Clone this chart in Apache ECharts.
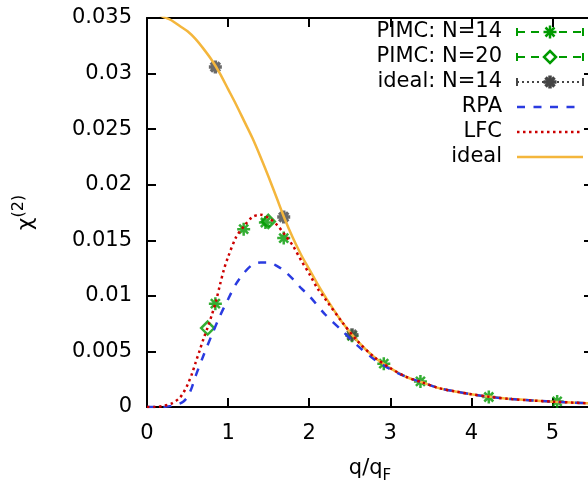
<!DOCTYPE html>
<html><head><meta charset="utf-8">
<script src="https://cdn.jsdelivr.net/npm/echarts@6/dist/echarts.min.js"></script>
<style>html,body{margin:0;padding:0;overflow:hidden;background:#fff;width:588px;height:482px}#c{width:600px;height:482px}</style>
</head><body><div id="c"></div><script>
const FONT = 'DejaVu Sans';
const seriesNames = ['PIMC: N=14', 'PIMC: N=20', 'ideal: N=14', 'RPA', 'LFC', 'ideal'];
const xTicks = [0, 1, 2, 3, 4, 5];
const yTicks = [0, 0.005, 0.01, 0.015, 0.02, 0.025, 0.03, 0.035];

const qIdeal = [0, 0.1, 0.2, 0.3, 0.4, 0.5, 0.6, 0.7, 0.8, 0.9, 1.0, 1.1, 1.2, 1.3, 1.4, 1.5, 1.6, 1.7, 1.8, 1.9, 2.0, 2.1, 2.2, 2.4, 2.6, 2.8, 3.0, 3.2, 3.4, 3.6, 3.8, 4.0, 4.2, 4.5, 5.0, 5.5];
const ideal  = [0.0354, 0.0354, 0.0351, 0.0348, 0.0343, 0.0338, 0.0331, 0.0322, 0.0312, 0.0300, 0.0286, 0.0272, 0.0257, 0.0242, 0.0225, 0.0207, 0.0188, 0.0169, 0.0152, 0.0137, 0.0124, 0.0111, 0.0099, 0.0077, 0.0059, 0.0045, 0.0035, 0.0027, 0.0022, 0.0017, 0.0014, 0.00115, 0.00094, 0.00071, 0.00048, 0.00032];

const qRPA = [0, 0.2, 0.3, 0.4, 0.45, 0.5, 0.55, 0.6, 0.7, 0.8, 0.9, 1.0, 1.1, 1.2, 1.3, 1.4, 1.5, 1.6, 1.7, 1.8, 1.9, 2.0, 2.2, 2.4, 2.6, 2.8, 3.0, 3.2, 3.4, 3.6, 3.8, 4.0, 4.2, 4.5, 5.0, 5.5];
const rpa  = [0, 0, 0.0001, 0.0003, 0.0005, 0.0009, 0.0017, 0.0028, 0.0047, 0.0065, 0.0082, 0.0097, 0.0111, 0.0121, 0.0128, 0.0130, 0.0130, 0.0127, 0.0122, 0.0115, 0.0107, 0.0100, 0.0083, 0.0069, 0.0055, 0.0043, 0.0034, 0.0027, 0.0022, 0.0017, 0.0014, 0.00115, 0.00094, 0.00071, 0.00048, 0.00032];

const qLFC = [0, 0.1, 0.2, 0.3, 0.4, 0.45, 0.5, 0.55, 0.6, 0.65, 0.7, 0.75, 0.8, 0.85, 0.9, 0.95, 1.0, 1.1, 1.2, 1.3, 1.4, 1.5, 1.6, 1.7, 1.8, 1.9, 2.0, 2.1, 2.2, 2.4, 2.6, 2.8, 3.0, 3.2, 3.4, 3.6, 3.8, 4.0, 4.2, 4.5, 5.0, 5.5];
const lfc  = [0, 0, 0.0001, 0.0003, 0.0008, 0.0013, 0.0020, 0.0029, 0.0040, 0.0051, 0.0062, 0.0072, 0.0083, 0.0095, 0.0110, 0.0124, 0.0135, 0.0153, 0.0163, 0.0171, 0.0173, 0.0170, 0.0164, 0.0155, 0.0145, 0.0132, 0.0120, 0.0107, 0.0097, 0.0077, 0.0059, 0.0045, 0.0035, 0.0027, 0.0022, 0.0017, 0.0014, 0.00115, 0.00094, 0.00071, 0.00048, 0.00032];

const qPimc14 = [0.843, 1.192, 1.460, 1.686, 2.528, 2.920, 3.372, 4.215, 5.058];
const pimc14  = [0.0093, 0.0160, 0.0166, 0.0152, 0.0064, 0.0039, 0.0023, 0.0009, 0.0005];
const qPimc20 = [0.748, 1.496];
const pimc20  = [0.0071, 0.0167];
const qIdeal14 = [0.843, 1.686, 2.528];
const ideal14  = [0.0306, 0.0171, 0.0065];

const GREEN = '#009a00', GRAY = '#454545', BLUE = '#2a3be0', RED = '#cc0000', ORANGE = '#f4b63c';
const zip = (a, b) => a.map((v, i) => [v, b[i]]);
const STAR = 'path://M6.5,0L6.5,13M0,6.5L13,6.5M2,2L11,11M2,11L11,2';

// legend drawn with graphic elements
const LX_TEXT = 502, LX0 = 517, LX1 = 583, LXM = 550, LY0 = 32, LDY = 25;
const legendStyles = [
  {color: GREEN, dash: [8, 6], width: 2, bars: true, marker: 'star'},
  {color: GREEN, dash: [8, 6], width: 2, bars: true, marker: 'diamond'},
  {color: GRAY, dash: [2, 3], width: 2, bars: true, marker: 'star'},
  {color: BLUE, dash: [8, 8.5], width: 2.5},
  {color: RED, dash: [2.5, 3.5], width: 2.5},
  {color: ORANGE, dash: null, width: 2.5}
];
const graphics = [];
seriesNames.forEach((name, i) => {
  const y = LY0 + LDY * i;
  const st = legendStyles[i];
  graphics.push({type: 'text', x: LX_TEXT, y: y, style: {text: name, font: '21px ' + FONT, fill: '#000', align: 'right', textAlign: 'right', verticalAlign: 'middle', textVerticalAlign: 'middle'}});
  graphics.push({type: 'line', shape: {x1: LX0, y1: y, x2: LX1, y2: y}, style: {stroke: st.color, lineWidth: st.width, lineDash: st.dash}});
  if (st.bars) {
    graphics.push({type: 'line', shape: {x1: LX0, y1: y - 4, x2: LX0, y2: y + 4}, style: {stroke: st.color, lineWidth: 2}});
    graphics.push({type: 'line', shape: {x1: LX1, y1: y - 4, x2: LX1, y2: y + 4}, style: {stroke: st.color, lineWidth: 2}});
  }
  if (st.marker === 'star') {
    const w = st.color === GRAY ? 3.5 : 2.5;
    [[0, -6.5, 0, 6.5], [-6.5, 0, 6.5, 0], [-4.5, -4.5, 4.5, 4.5], [-4.5, 4.5, 4.5, -4.5]].forEach(s => {
      graphics.push({type: 'line', shape: {x1: LXM + s[0], y1: y + s[1], x2: LXM + s[2], y2: y + s[3]}, style: {stroke: st.color, lineWidth: w}});
    });
  } else if (st.marker === 'diamond') {
    graphics.push({type: 'polygon', shape: {points: [[LXM, y - 6], [LXM + 6, y], [LXM, y + 6], [LXM - 6, y]]}, style: {fill: '#fff', stroke: st.color, lineWidth: 2.5}});
  }
});

const axisCommon = {
  type: 'value',
  axisLine: {show: true, onZero: false, lineStyle: {color: '#000', width: 2}},
  axisTick: {show: true, inside: true, length: 9, lineStyle: {color: '#000', width: 2}},
  splitLine: {show: false}
};

const chart = echarts.init(document.getElementById('c'), null, {renderer: 'canvas'});
chart.setOption({
  animation: false,
  backgroundColor: '#fff',
  textStyle: {fontFamily: FONT},
  grid: {left: 147, top: 18, width: 446, height: 389, containLabel: false, outerBoundsMode: 'none'},
  xAxis: [
    Object.assign({}, axisCommon, {
      position: 'bottom', min: 0, max: 5.5, interval: 1,
      name: '{a|q/q}{b|F}', nameLocation: 'middle', nameGap: 47,
      nameTextStyle: {rich: {a: {fontSize: 21, fontFamily: FONT, color: '#000', lineHeight: 30}, b: {fontSize: 15, fontFamily: FONT, color: '#000', lineHeight: 18, verticalAlign: 'bottom'}}},
      axisLabel: {show: true, margin: 16, fontSize: 21, fontFamily: FONT, color: '#000', showMaxLabel: false,
        formatter: v => (xTicks.indexOf(v) >= 0 ? String(v) : '')}
    }),
    Object.assign({}, axisCommon, {position: 'top', min: 0, max: 5.5, interval: 1, axisLabel: {show: false}})
  ],
  yAxis: [
    Object.assign({}, axisCommon, {
      position: 'left', min: 0, max: 0.035, interval: 0.005,
      name: '{a|χ}{b|(2)}', nameLocation: 'middle', nameGap: 106, nameRotate: 90,
      nameTextStyle: {rich: {a: {fontSize: 22, fontFamily: FONT, color: '#000', lineHeight: 30}, b: {fontSize: 16, fontFamily: FONT, color: '#000', lineHeight: 24, verticalAlign: 'top'}}},
      axisLabel: {show: true, margin: 15, fontSize: 21, fontFamily: FONT, color: '#000',
        formatter: v => { const t = yTicks.find(t => Math.abs(t - v) < 1e-9); return t === undefined ? '' : String(t); }}
    }),
    Object.assign({}, axisCommon, {position: 'right', min: 0, max: 0.035, interval: 0.005, axisLabel: {show: false}})
  ],
  series: [
    {name: seriesNames[0], type: 'scatter', data: zip(qPimc14, pimc14), symbol: STAR, symbolSize: 13, z: 2,
      itemStyle: {color: GREEN, borderColor: GREEN, borderWidth: 2.5}},
    {name: seriesNames[1], type: 'scatter', data: zip(qPimc20, pimc20), symbol: 'diamond', symbolSize: 13, z: 2,
      itemStyle: {color: 'rgba(255,255,255,0)', borderColor: GREEN, borderWidth: 2.5}},
    {name: seriesNames[2], type: 'scatter', data: zip(qIdeal14, ideal14), symbol: STAR, symbolSize: 13, z: 2,
      itemStyle: {color: GRAY, borderColor: GRAY, borderWidth: 3.5}},
    {name: seriesNames[5], type: 'line', data: zip(qIdeal, ideal), showSymbol: false, smooth: 0.3, z: 3,
      lineStyle: {color: ORANGE, width: 2.5}},
    {name: seriesNames[3], type: 'line', data: zip(qRPA, rpa), showSymbol: false, smooth: 0.3, z: 4,
      lineStyle: {color: BLUE, width: 2.5, type: [8, 8.5]}},
    {name: seriesNames[4], type: 'line', data: zip(qLFC, lfc), showSymbol: false, smooth: 0.3, z: 5,
      lineStyle: {color: RED, width: 2.5, type: [2.5, 3.5]}}
  ],
  graphic: graphics
});
</script></body></html>
